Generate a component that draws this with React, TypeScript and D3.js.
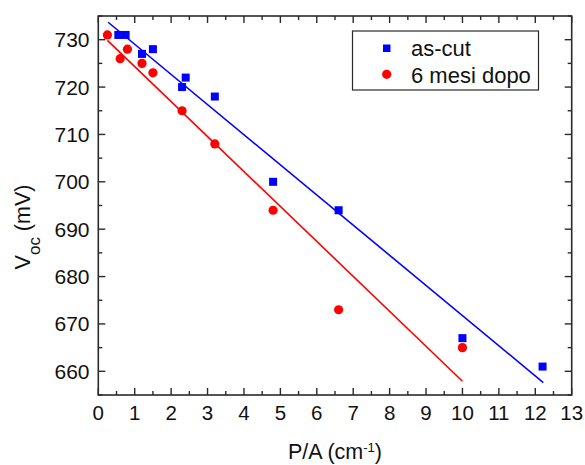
import React from "react";
import * as d3 from "d3";

// Open-circuit voltage vs perimeter/area ratio
const asCutX = [0.55, 0.75, 1.2, 1.5, 2.3, 2.4, 3.2, 4.8, 6.6, 10, 12.2];
const asCutY = [731, 731, 727, 728, 720, 722, 718, 700, 694, 667, 661];
const laterX = [0.25, 0.6, 0.8, 1.2, 1.5, 2.3, 3.2, 4.8, 6.6, 10];
const laterY = [731, 726, 728, 725, 723, 715, 708, 694, 673, 665];

// Linear fits: [intercept, slope, xStart, xEnd]
const asCutFit = [735.4, -6.364, 0.27, 12.22];
const laterFit = [731.7, -7.38, 0.25, 10];

const xTicks = d3.range(0, 14, 1);
const xMinor = d3.range(0.5, 13, 1);
const yTicks = d3.range(660, 731, 10);
const yMinor = d3.range(655, 736, 10);

const W = 585;
const H = 465;
const FONT = "'Liberation Sans', Arial, Helvetica, sans-serif";

export default function App() {
  const left = 98.3, right = 571.7, top = 16, bottom = 395;
  const x = d3.scaleLinear().domain([0, 13]).range([left, right]);
  const y = d3.scaleLinear().domain([655, 735]).range([bottom, top]);
  const axis = "#2a2a2a";
  const major = 7, minor = 4;

  const fitLine = (f: number[]) => {
    const line = d3.line<number>().x((v) => x(v)).y((v) => y(f[0] + f[1] * v));
    return line([f[2], f[3]]) || "";
  };

  return (
    <div style={{ position: "fixed", left: 0, top: 0 }}>
      <svg width={W} height={H} style={{ display: "block", background: "#fff" }} fontFamily={FONT}>
        {/* fit lines */}
        <path d={fitLine(asCutFit)} stroke="#0000ff" strokeWidth={1.6} fill="none" />
        <path d={fitLine(laterFit)} stroke="#ff0000" strokeWidth={1.6} fill="none" />

        {/* as-cut squares */}
        {asCutX.map((v, i) => (
          <rect key={"b" + i} x={x(v) - 4} y={y(asCutY[i]) - 4} width={8} height={8} fill="#0000ff" />
        ))}
        {/* aged circles */}
        {laterX.map((v, i) => (
          <circle key={"r" + i} cx={x(v)} cy={y(laterY[i])} r={4.6} fill="#ff0000" />
        ))}

        {/* frame */}
        <rect x={left} y={top} width={right - left} height={bottom - top} fill="none" stroke={axis} strokeWidth={1.6} />

        {/* x ticks, bottom and top, pointing inward */}
        {xTicks.map((t) => (
          <g key={"xt" + t}>
            <line x1={x(t)} x2={x(t)} y1={bottom} y2={bottom - major} stroke={axis} strokeWidth={1.4} />
            <line x1={x(t)} x2={x(t)} y1={top} y2={top + major} stroke={axis} strokeWidth={1.4} />
            <text x={x(t)} y={420} textAnchor="middle" fontSize={20.5} fill="#111">{t}</text>
          </g>
        ))}
        {xMinor.map((t) => (
          <g key={"xm" + t}>
            <line x1={x(t)} x2={x(t)} y1={bottom} y2={bottom - minor} stroke={axis} strokeWidth={1.4} />
            <line x1={x(t)} x2={x(t)} y1={top} y2={top + minor} stroke={axis} strokeWidth={1.4} />
          </g>
        ))}

        {/* y ticks, left and right, pointing inward */}
        {yTicks.map((t) => (
          <g key={"yt" + t}>
            <line x1={left} x2={left + major} y1={y(t)} y2={y(t)} stroke={axis} strokeWidth={1.4} />
            <line x1={right} x2={right - major} y1={y(t)} y2={y(t)} stroke={axis} strokeWidth={1.4} />
            <text x={89.5} y={y(t)} dy="0.36em" textAnchor="end" fontSize={21} fill="#111">{t}</text>
          </g>
        ))}
        {yMinor.map((t) => (
          <g key={"ym" + t}>
            <line x1={left} x2={left + minor} y1={y(t)} y2={y(t)} stroke={axis} strokeWidth={1.4} />
            <line x1={right} x2={right - minor} y1={y(t)} y2={y(t)} stroke={axis} strokeWidth={1.4} />
          </g>
        ))}

        {/* axis titles */}
        <text x={335} y={459} textAnchor="middle" fontSize={21.5} fill="#111">
          P/A (cm<tspan baselineShift="super" fontSize={13}>-1</tspan>)
        </text>
        <text transform="translate(30,227) rotate(-90)" textAnchor="middle" fontSize={21.5} fill="#111">
          V<tspan baselineShift="sub" fontSize={17}>oc</tspan> (mV)
        </text>

        {/* legend */}
        <rect x={352.5} y={31} width={186} height={59} fill="#fff" stroke={axis} strokeWidth={1.2} />
        <rect x={383} y={44.5} width={7.5} height={7.5} fill="#0000ff" />
        <circle cx={386.7} cy={74.3} r={4.6} fill="#ff0000" />
        <text x={411} y={55.5} fontSize={22} fill="#111">as-cut</text>
        <text x={411} y={83} fontSize={22} fill="#111">6 mesi dopo</text>
      </svg>
    </div>
  );
}
